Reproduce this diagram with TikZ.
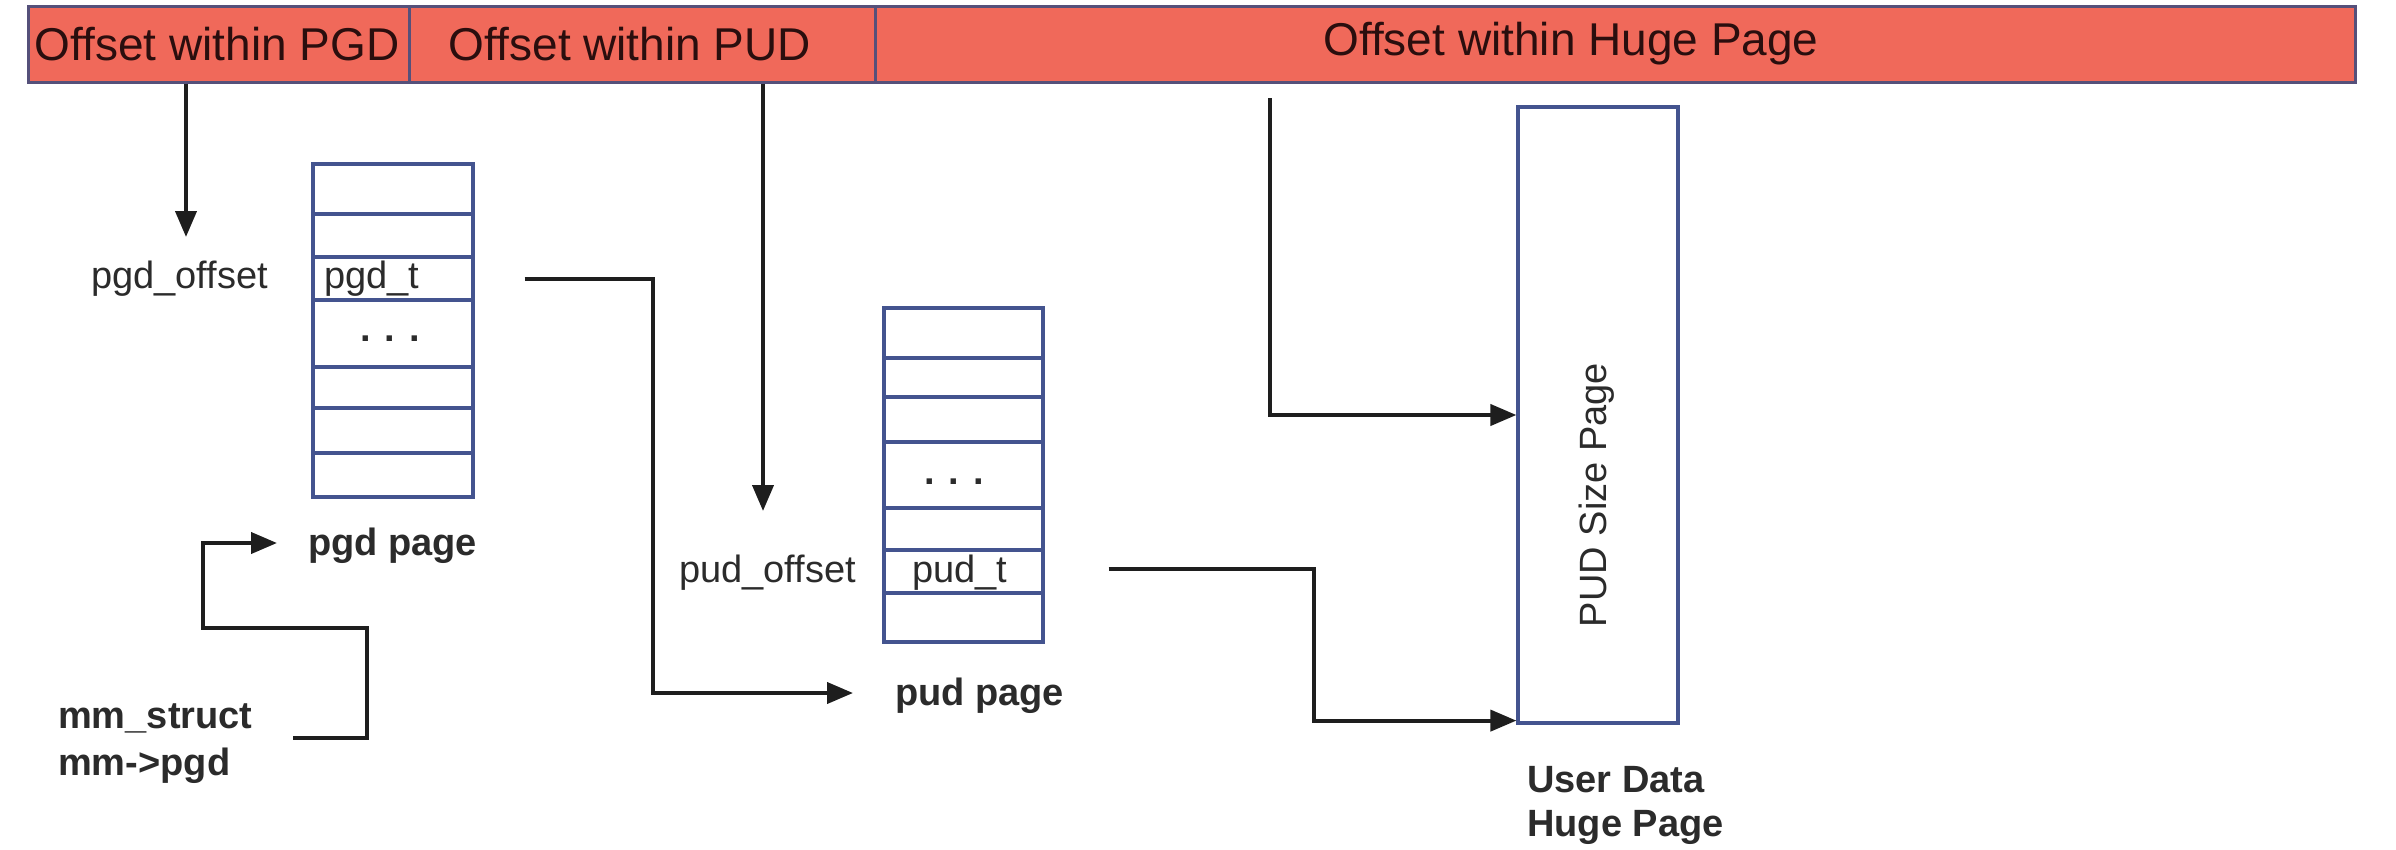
\documentclass[tikz,border=0pt]{standalone}
\usepackage{fontspec}
\setmainfont{Liberation Sans}
\usetikzlibrary{arrows.meta,calc}
\definecolor{barfill}{HTML}{F0695A}
\definecolor{barline}{HTML}{55507A}
\definecolor{bartext}{HTML}{2A0E0E}
\definecolor{tabline}{HTML}{44548F}
\definecolor{arrowc}{HTML}{1E1E1E}
\definecolor{txt}{HTML}{2B2B2B}
\begin{document}
\begin{tikzpicture}[x=1pt,y=-1pt,
  barcell/.style={draw=barline, fill=barfill, line width=3pt, inner sep=0pt, minimum height=76pt},
  bartxt/.style={font=\fontsize{46}{50}\selectfont, text=bartext, inner sep=0pt},
  lbl/.style={font=\fontsize{38}{44}\selectfont, text=txt, inner sep=0pt},
  blbl/.style={font=\fontsize{38}{44}\selectfont\bfseries, text=txt, inner sep=0pt},
  tab/.style={draw=tabline, line width=3.2pt},
  tabbox/.style={tab, inner sep=0pt, minimum width=#1},
  conn/.style={draw=arrowc, line width=4pt, line join=miter, -{Triangle[length=26pt,width=21pt]}},
]
\useasboundingbox[fill=white] (0,0) rectangle (2396,849);

% top bar
\node[barcell, minimum width=381pt] (barpgd) at (218.5,44) {};
\node[barcell, minimum width=466pt] (barpud) at (642,44) {};
\node[barcell, minimum width=1480pt] (barhuge) at (1615,44) {};
\node[bartxt] (tpgd) at (217,44) {Offset within PGD};
\node[bartxt] (tpud) at (630,44) {Offset within PUD};
\node[bartxt] (thuge) at (1571,44) {Offset within Huge Page};

% pgd table
\node[tabbox=160pt, minimum height=333pt] (pgdtab) at (393,330.5) {};
\foreach \yy in {214,257,300,367,408,453} \draw[tab] (313,\yy) -- (473,\yy);
\coordinate (pgdt) at (393,278.5);
\node[lbl, anchor=base west] (pgdtlbl) at (324,288) {pgd\_t};
\node[lbl, anchor=base east] (pgdoff) at (268,288) {pgd\_offset};
\node[lbl, font=\fontsize{38}{44}\selectfont\bfseries] (pgddots) at (390,339) {. . .};
\node[blbl, anchor=base west] (pgdpage) at (308,555) {pgd page};

% pud table
\node[tabbox=159pt, minimum height=334pt] (pudtab) at (963.5,475) {};
\foreach \yy in {358,397,442,508,550,593} \draw[tab] (884,\yy) -- (1043,\yy);
\coordinate (pudt) at (963.5,571.5);
\node[lbl, anchor=base] (pudtlbl) at (960,582) {pud\_t};
\node[lbl, anchor=base east] (pudoff) at (856,582) {pud\_offset};
\node[lbl, font=\fontsize{38}{44}\selectfont\bfseries] (puddots) at (954,482) {. . .};
\node[blbl, anchor=base west] (pudpage) at (895,705) {pud page};

% huge page
\node[tabbox=160pt, minimum height=616pt] (hugebox) at (1598,415) {};
\node[lbl, rotate=90] (pudsize) at (1597,495) {PUD Size Page};
\node[blbl, anchor=base west] (ud1) at (1527,792) {User Data};
\node[blbl, anchor=base west] (ud2) at (1527,836) {Huge Page};

% mm_struct
\node[blbl, anchor=base west] (mm1) at (58,728) {mm\_struct};
\node[blbl, anchor=base west] (mm2) at (58,775) {mm->pgd};

% connectors
\coordinate (pgdtip) at (186,237);
\draw[conn] (barpgd.south -| pgdtip) -- (pgdtip);
\coordinate (pudtip) at (763,511);
\draw[conn] (barpud.south -| pudtip) -- (pudtip);
\coordinate (hugestart) at (1270,98);
\draw[conn] (hugestart) |- (hugebox.west);

\coordinate (pgdtstart) at ($(pgdtab.east |- pgdt)+(50,0)$);
\coordinate (pudpagetip) at (853,693);
\draw[conn] (pgdtstart) -- ++(128,0) |- (pudpagetip);

\coordinate (pudtstart) at ($(pudtab.east |- pudt)+(64,-3)$);
\draw[conn] (pudtstart) -- ++(205,0) |- ($(hugebox.south west)+(0,-4)$);

\coordinate (mmstart) at (293,738);
\coordinate (pgdpagetip) at (277,543);
\draw[conn] (mmstart) -- ++(74,0) -- ++(0,-110) -- ++(-164,0) |- (pgdpagetip);
\end{tikzpicture}
\end{document}
